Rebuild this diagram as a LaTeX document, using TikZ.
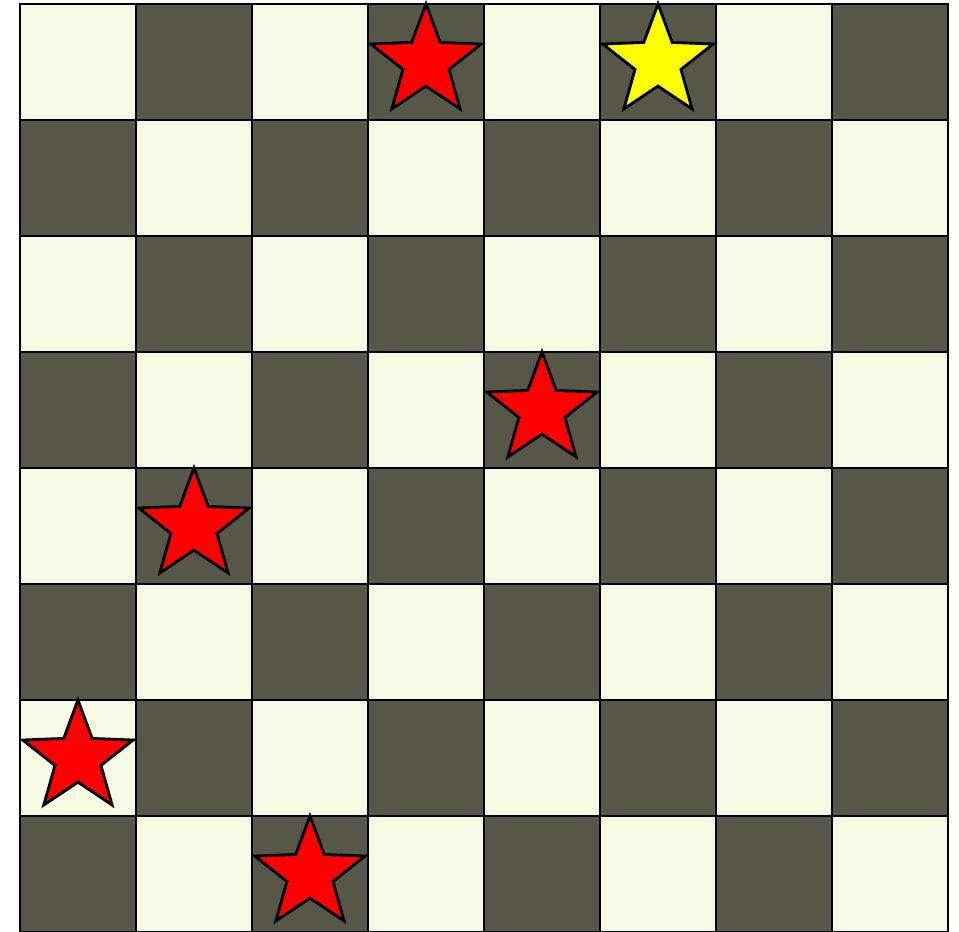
\documentclass[tikz,border=0pt]{standalone}
\usetikzlibrary{shapes.geometric}
\definecolor{BoardLight}{HTML}{F5F8E2}
\definecolor{BoardDark}{HTML}{575749}
\definecolor{QueenRed}{HTML}{FF0000}
\definecolor{QueenYellow}{HTML}{FFFF00}

\begin{document}
\begin{tikzpicture}[
    light/.style={fill=BoardLight, draw=black, line width=0.7pt},
    dark/.style={fill=BoardDark, draw=black, line width=0.7pt},
    queen/.style={star, star points=5, star point ratio=2.4,
                  minimum size=1.0cm, inner sep=0pt, outer sep=0pt,
                  draw=black, line width=0.7pt, fill=QueenRed},
    picked/.style={queen, fill=QueenYellow},
  ]
    \useasboundingbox (-0.172,0) rectangle (8.095,8.034);

    % Felder
    \foreach \r in {0,...,7} {
      \foreach \c in {0,...,7} {
        \pgfmathtruncatemacro{\parity}{mod(\r+\c,2)}
        \ifnum\parity=0
          \draw[light] (\c,7-\r) rectangle ++(1,1);
        \else
          \draw[dark] (\c,7-\r) rectangle ++(1,1);
        \fi
      }
    }

    % Damen
    \node[queen]  (q1) at (3.5,7.5) {};
    \node[picked] (q2) at (5.5,7.5) {};
    \node[queen]  (q3) at (4.5,4.5) {};
    \node[queen]  (q4) at (1.5,3.5) {};
    \node[queen]  (q5) at (0.5,1.5) {};
    \node[queen]  (q6) at (2.5,0.5) {};
\end{tikzpicture}
\end{document}
